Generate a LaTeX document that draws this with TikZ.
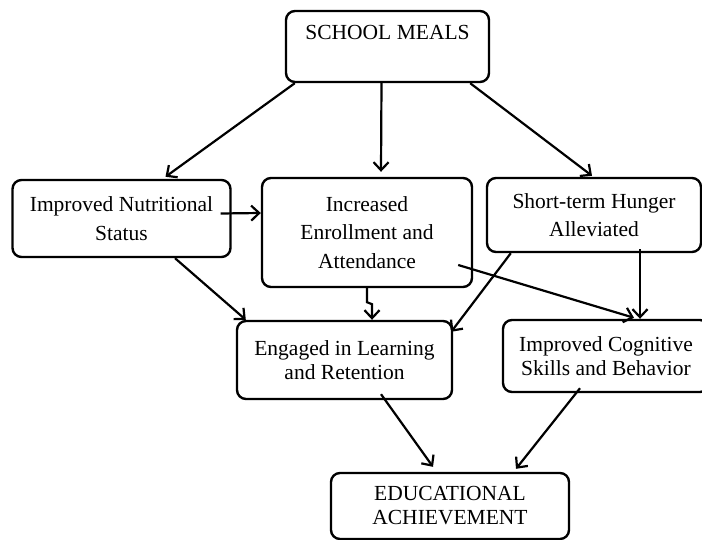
\documentclass[tikz,border=0pt]{standalone}
\usepackage{fontspec}
\setmainfont{Liberation Serif}
\usepackage{tikz}
\usetikzlibrary{calc, arrows.meta}

\begin{document}
\begin{tikzpicture}[x=1pt, y=-1pt, >={Straight Barb[length=8pt, width=15pt]},
    box/.style={draw, line width=2.4pt, rounded corners=9pt, align=center, inner sep=0pt,
                font=\fontsize{21.5}{28.3}\selectfont},
    lowbox/.style={box, font=\fontsize{21.5}{24}\selectfont},
    link/.style={->, line width=2.2pt}]

    \useasboundingbox (0,0) rectangle (702,540);

            \node[box, minimum width=203, minimum height=71] (meals) at (387.5,46.5) {SCHOOL MEALS\\\mbox{}};

            \node[box, minimum width=218, minimum height=77] (nut) at (121.5,218.5) {Improved Nutritional\\Status};
            \node[box, minimum width=210, minimum height=109] (inc) at (367,232.5) {Increased\\Enrollment and\\Attendance};
            \node[box, minimum width=214, minimum height=74] (hun) at (594,215) {Short-term Hunger\\Alleviated};

            \node[lowbox, minimum width=215, minimum height=78] (eng) at (344.5,360) {Engaged in Learning\\and Retention};
            \node[lowbox, minimum width=206, minimum height=72] (cog) at (606,356) {Improved Cognitive\\Skills and Behavior};

            \node[lowbox, minimum width=238, minimum height=66] (edu) at (450,506) {EDUCATIONAL\\ACHIEVEMENT};

            % Connections: school meals to first outcomes
            \draw[link] ($(meals.south west)+(10,0)$) -- ($(nut.north)+(44,-2)$);
            \draw[link] ($(meals.south)+(-6,0)$) -- ($(inc.north)+(14,-5)$);
            \draw[link] ($(meals.south east)+(-20,0)$) -- ($(hun.north)+(-2,-1)$);

            % Connections: first outcomes to second outcomes
            \draw[link] ($(nut.east)+(-11,-5)$) -- ($(inc.west)+(0,-19.5)$);
            \draw[link] ($(nut.south)+(53.5,0)$) -- ($(eng.north west)+(10,0)$);
            \draw[link] (inc.south) -- ++(0,14) -- ++(5,2) -- ($(eng.north)+(27.5,0)$);
            \draw[link] ($(inc.east)+(-15,32.5)$) -- ($(cog.north)+(28,-1)$);
            \draw[link] ($(hun.south west)+(25,0)$) -- ($(eng.north east)+(-2,12)$);
            \draw[link] ($(hun.south)+(46,-4)$) -- ($(cog.north)+(34,0)$);

            % Connections: to educational achievement
            \draw[link] ($(eng.south)+(36.5,-6)$) -- ($(edu.north)+(-17,-5)$);
            \draw[link] ($(cog.south)+(-26,-5)$) -- ($(edu.north)+(66,-3)$);

\end{tikzpicture}
\end{document}
